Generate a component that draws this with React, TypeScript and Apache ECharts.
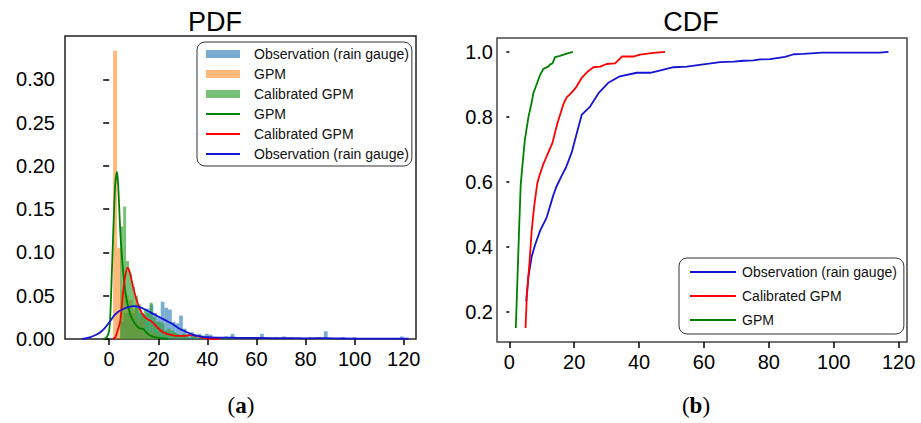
import React, { useEffect, useRef } from 'react';
import * as echarts from 'echarts';

// ---------- tick labels ----------
const pdfXTicks = [0, 20, 40, 60, 80, 100, 120];
const pdfYTicks = [0, 0.05, 0.1, 0.15, 0.2, 0.25, 0.3];
const cdfXTicks = [0, 20, 40, 60, 80, 100, 120];
const cdfYTicks = [0.2, 0.4, 0.6, 0.8, 1.0];

// ---------- legend labels ----------
const pdfLegendLabels = [
  'Observation (rain gauge)',
  'GPM',
  'Calibrated GPM',
  'GPM',
  'Calibrated GPM',
  'Observation (rain gauge)',
];
const cdfLegendLabels = ['Observation (rain gauge)', 'Calibrated GPM', 'GPM'];

// ---------- PDF histograms (bin start, density) ----------
const obsBinWidth = 1.5;
const obsBinStart = [4.5, 6, 7.5, 9, 10.5, 12, 13.5, 15, 16.5, 18, 19.5, 21, 22.5, 24, 25.5, 27, 28.5, 30, 31.5, 33, 34.5, 36, 37.5, 39, 40.5, 43.5, 46.5, 49.5, 52.5, 55.5, 58.5, 61.5, 64.5, 67.5, 70.5, 73.5, 76.5, 81, 85, 87.5, 94.5, 99, 105, 112.5, 118.5];
const obsDensity = [0.02, 0.03, 0.036, 0.03, 0.04, 0.03, 0.028, 0.035, 0.04, 0.03, 0.025, 0.043, 0.036, 0.034, 0.02, 0.018, 0.027, 0.012, 0.006, 0.008, 0.004, 0.006, 0.004, 0.006, 0.005, 0.002, 0.002, 0.006, 0.002, 0.002, 0.002, 0.006, 0.002, 0.002, 0.003, 0.002, 0.002, 0.002, 0.002, 0.009, 0.002, 0.002, 0.001, 0.001, 0.003];

const gpmBinWidth = 1.6;
const gpmBinStart = [1.6, 3.2, 4.8, 6.4, 8.0, 9.6, 11.2, 12.8, 14.4, 16.0, 17.6, 19.2];
const gpmDensity = [0.333, 0.105, 0.055, 0.05, 0.045, 0.035, 0.02, 0.025, 0.01, 0.008, 0.006, 0.004];

const calBinWidth = 1.2;
const calBinStart = [4.5, 5.7, 6.9, 8.1, 9.3, 10.5, 11.7, 12.9, 14.1, 15.3, 16.5, 17.7, 18.9, 20.1, 21.3, 22.5, 23.7, 24.9, 26.1, 27.3, 28.5, 29.7, 30.9, 33.3, 34.5, 37, 39.5, 42, 47];
const calDensity = [0.13, 0.153, 0.09, 0.075, 0.06, 0.05, 0.04, 0.03, 0.035, 0.03, 0.042, 0.025, 0.02, 0.02, 0.018, 0.01, 0.012, 0.01, 0.008, 0.006, 0.005, 0.006, 0.004, 0.006, 0.004, 0.004, 0.003, 0.002, 0.003];

// ---------- PDF KDE curves [x, density] ----------
const gpmKde = [[-2.5, 0], [-1, 0.002], [0, 0.01], [0.5, 0.03], [1, 0.07], [1.5, 0.11], [2, 0.15], [2.5, 0.18], [3.2, 0.193], [3.8, 0.17], [4.5, 0.125], [5.2, 0.095], [5.8, 0.075], [6.5, 0.057], [7.2, 0.044], [8.5, 0.029], [9.8, 0.021], [11, 0.016], [12, 0.013], [13, 0.012], [14, 0.0115], [15, 0.008], [16.7, 0.004], [18.8, 0.002], [21, 0.001], [24, 0]];
const calKde = [[1.5, 0], [2.5, 0.002], [3.5, 0.01], [4.5, 0.021], [5.6, 0.052], [6.5, 0.072], [7.5, 0.0825], [8.3, 0.078], [9.2, 0.067], [10.2, 0.055], [11.3, 0.044], [12.6, 0.034], [14, 0.027], [15.5, 0.023], [17.4, 0.02], [19.4, 0.014], [22.1, 0.0075], [24.8, 0.005], [27.5, 0.0035], [30.2, 0.0035], [33, 0.0045], [35.7, 0.0035], [38.4, 0.0012], [41, 0.0003], [45, 0]];
const obsKde = [[-11, 0], [-8, 0.002], [-6, 0.004], [-4, 0.007], [-2, 0.012], [0, 0.019], [2, 0.027], [4, 0.032], [6, 0.035], [8, 0.037], [10, 0.038], [12, 0.037], [14, 0.035], [16, 0.032], [18, 0.029], [20, 0.026], [22, 0.023], [24, 0.02], [26, 0.017], [28, 0.013], [30, 0.01], [32, 0.0075], [34, 0.005], [36, 0.0035], [38, 0.0025], [40, 0.002], [45, 0.0015], [50, 0.0015], [55, 0.0012], [60, 0.0013], [65, 0.001], [70, 0.001], [80, 0.0008], [88, 0.001], [95, 0.0006], [105, 0.0004], [115, 0.0005], [122, 0.0003]];

// ---------- CDF curves [x, cumulative probability] ----------
const obsCdf = [[5.2, 0.232], [5.9, 0.31], [6.9, 0.37], [7.9, 0.405], [9.5, 0.45], [11.5, 0.49], [13.6, 0.56], [14.5, 0.585], [16.2, 0.62], [17.5, 0.645], [19.2, 0.69], [20.8, 0.75], [22.3, 0.806], [24.9, 0.832], [27.5, 0.873], [30.5, 0.905], [34.1, 0.925], [39.3, 0.936], [43.4, 0.936], [46, 0.942], [50.6, 0.953], [54.7, 0.955], [59.8, 0.962], [65, 0.969], [69.1, 0.97], [72.2, 0.973], [75.3, 0.974], [77.3, 0.977], [80.4, 0.978], [85, 0.985], [87.7, 0.993], [90.7, 0.994], [96.4, 0.998], [114.2, 0.998], [116.9, 1.0]];
const calCdf = [[5.0, 0.15], [5.4, 0.25], [6.2, 0.35], [6.9, 0.45], [7.6, 0.52], [8.6, 0.595], [9.3, 0.62], [10.5, 0.655], [12, 0.69], [13.3, 0.72], [14.8, 0.78], [16.7, 0.84], [17.7, 0.86], [19.2, 0.875], [20.5, 0.89], [22.3, 0.92], [24.2, 0.94], [25.9, 0.953], [28, 0.955], [30, 0.963], [32.6, 0.965], [34.7, 0.986], [38.2, 0.986], [40.3, 0.992], [44.4, 0.997], [48, 1.0]];
const gpmCdf = [[2.0, 0.15], [2.5, 0.3], [3.0, 0.45], [3.5, 0.59], [4.0, 0.647], [4.8, 0.73], [5.9, 0.8], [6.9, 0.845], [7.4, 0.873], [8.4, 0.9], [9.5, 0.93], [10.5, 0.948], [12, 0.955], [12.6, 0.962], [13.3, 0.965], [14.1, 0.984], [15.6, 0.988], [17.7, 0.995], [19.6, 1.0]];

const SANS = '"Liberation Sans", Arial, sans-serif';
const SERIF = '"Liberation Serif", "Times New Roman", serif';

const C_OBS_H = 'rgba(31,119,180,0.6)';
const C_GPM_H = 'rgba(255,127,14,0.55)';
const C_CAL_H = 'rgba(44,160,44,0.65)';
const C_GREEN = '#008000';
const C_RED = '#ff0000';
const C_BLUE = '#1414d2';

const LINE_ICON_L = 'path://M0,0 L34,0 L34,2 L0,2 Z';
const LINE_ICON_R = 'path://M0,0 L46,0 L46,2 L0,2 Z';

function histSeries(name: string, starts: number[], width: number, heights: number[], color: string) {
  return {
    type: 'custom',
    name,
    xAxisIndex: 0,
    yAxisIndex: 0,
    itemStyle: { color },
    encode: { x: [0, 1], y: 2 },
    data: starts.map((s, i) => [s, s + width, heights[i]]),
    renderItem: (_p: any, api: any) => {
      const a = api.coord([api.value(0), api.value(2)]);
      const b = api.coord([api.value(1), 0]);
      return {
        type: 'rect',
        shape: { x: a[0], y: a[1], width: b[0] - a[0], height: b[1] - a[1] },
        style: { fill: color },
      };
    },
  };
}

function lineSeries(name: string, data: number[][], color: string, xi: number, smooth: number) {
  return {
    type: 'line',
    name,
    xAxisIndex: xi,
    yAxisIndex: xi,
    data,
    symbol: 'none',
    showSymbol: false,
    smooth,
    lineStyle: { color, width: 1.8 },
    itemStyle: { color },
  };
}

const axisLabelStyle = { color: '#000', fontSize: 20, fontFamily: SANS };
const tickStyle = { show: true, length: 6, inside: false, lineStyle: { color: '#000', width: 1.5 } };

export default function App() {
  const ref = useRef<HTMLDivElement>(null);
  useEffect(() => {
    document.body.style.margin = '0';
    if (!ref.current) return;
    const chart = echarts.init(ref.current, undefined, { renderer: 'svg' });
    const pdfNames = ['obsHist', 'gpmHist', 'calHist', 'gpmKde', 'calKde', 'obsKde'];
    const cdfNames = ['obsCdf', 'calCdf', 'gpmCdf'];
    const labelMap: Record<string, string> = {};
    pdfNames.forEach((n, i) => (labelMap[n] = pdfLegendLabels[i]));
    cdfNames.forEach((n, i) => (labelMap[n] = cdfLegendLabels[i]));

    chart.setOption({
      animation: false,
      backgroundColor: '#fff',
      grid: [
        { left: 65, top: 36, width: 351, height: 303, show: true, borderColor: '#222', borderWidth: 1.5, backgroundColor: 'transparent' },
        { left: 497, top: 38, width: 410, height: 304, show: true, borderColor: '#444', borderWidth: 1.5, backgroundColor: 'transparent' },
      ],
      xAxis: [
        {
          type: 'value', gridIndex: 0, min: -18, max: 125,
          axisLine: { show: false }, splitLine: { show: false },
          axisTick: { ...tickStyle, customValues: pdfXTicks },
          axisLabel: { ...axisLabelStyle, margin: 10, customValues: pdfXTicks },
        },
        {
          type: 'value', gridIndex: 1, min: -3.8, max: 122.6,
          axisLine: { show: false }, splitLine: { show: false },
          axisTick: { ...tickStyle, customValues: cdfXTicks },
          axisLabel: { ...axisLabelStyle, margin: 10, customValues: cdfXTicks },
        },
      ],
      yAxis: [
        {
          type: 'value', gridIndex: 0, min: 0, max: 0.35,
          axisLine: { show: false }, splitLine: { show: false },
          axisTick: { ...tickStyle, customValues: pdfYTicks },
          axisLabel: { ...axisLabelStyle, margin: 10, customValues: pdfYTicks, formatter: (v: number) => v.toFixed(2) },
        },
        {
          type: 'value', gridIndex: 1, min: 0.107, max: 1.043,
          axisLine: { show: false }, splitLine: { show: false },
          axisTick: { ...tickStyle, length: 3, customValues: cdfYTicks },
          axisLabel: { ...axisLabelStyle, margin: 4, customValues: cdfYTicks, formatter: (v: number) => v.toFixed(1) },
        },
      ],
      legend: [
        {
          orient: 'vertical', left: 197, top: 42,
          padding: [5, 3, 5, 9], itemGap: 6, itemWidth: 34, itemHeight: 8,
          borderColor: '#333', borderWidth: 1, borderRadius: 8, backgroundColor: '#fff',
          textStyle: { fontSize: 14, fontFamily: SANS, color: '#111', padding: [0, 0, 0, 9] },
          formatter: (n: string) => labelMap[n] || n,
          data: [
            { name: 'obsHist', icon: 'rect' },
            { name: 'gpmHist', icon: 'rect' },
            { name: 'calHist', icon: 'rect' },
            { name: 'gpmKde', icon: LINE_ICON_L },
            { name: 'calKde', icon: LINE_ICON_L },
            { name: 'obsKde', icon: LINE_ICON_L },
          ],
        },
        {
          orient: 'vertical', left: 679, top: 258,
          padding: [7, 7, 7, 11], itemGap: 10, itemWidth: 46, itemHeight: 14,
          borderColor: '#333', borderWidth: 1, borderRadius: 8, backgroundColor: '#fff',
          textStyle: { fontSize: 14, fontFamily: SANS, color: '#111', padding: [0, 0, 0, 1] },
          formatter: (n: string) => labelMap[n] || n,
          data: [
            { name: 'obsCdf', icon: LINE_ICON_R },
            { name: 'calCdf', icon: LINE_ICON_R },
            { name: 'gpmCdf', icon: LINE_ICON_R },
          ],
        },
      ],
      graphic: [
        { type: 'text', x: 215, y: 8, style: { text: 'PDF', fontSize: 27, fontFamily: SANS, fill: '#000', align: 'center', textAlign: 'center', verticalAlign: 'top', textVerticalAlign: 'top' } },
        { type: 'text', x: 691, y: 8, style: { text: 'CDF', fontSize: 27, fontFamily: SANS, fill: '#000', align: 'center', textAlign: 'center', verticalAlign: 'top', textVerticalAlign: 'top' } },
        { type: 'text', x: 241, y: 394, style: { text: '({b|a})', fontSize: 23, fontFamily: SERIF, fill: '#000', align: 'center', textAlign: 'center', verticalAlign: 'top', textVerticalAlign: 'top', rich: { b: { fontWeight: 'bold', fontSize: 23, fontFamily: SERIF, fill: '#000' } } } },
        { type: 'text', x: 696, y: 394, style: { text: '({b|b})', fontSize: 23, fontFamily: SERIF, fill: '#000', align: 'center', textAlign: 'center', verticalAlign: 'top', textVerticalAlign: 'top', rich: { b: { fontWeight: 'bold', fontSize: 23, fontFamily: SERIF, fill: '#000' } } } },
      ],
      series: [
        histSeries('obsHist', obsBinStart, obsBinWidth, obsDensity, C_OBS_H),
        histSeries('gpmHist', gpmBinStart, gpmBinWidth, gpmDensity, C_GPM_H),
        histSeries('calHist', calBinStart, calBinWidth, calDensity, C_CAL_H),
        lineSeries('gpmKde', gpmKde, C_GREEN, 0, 0.3),
        lineSeries('calKde', calKde, C_RED, 0, 0.3),
        lineSeries('obsKde', obsKde, C_BLUE, 0, 0.3),
        lineSeries('obsCdf', obsCdf, C_BLUE, 1, 0),
        lineSeries('calCdf', calCdf, C_RED, 1, 0),
        lineSeries('gpmCdf', gpmCdf, C_GREEN, 1, 0),
      ],
    });
    return () => chart.dispose();
  }, []);
  return <div ref={ref} style={{ width: 921, height: 423 }} />;
}
